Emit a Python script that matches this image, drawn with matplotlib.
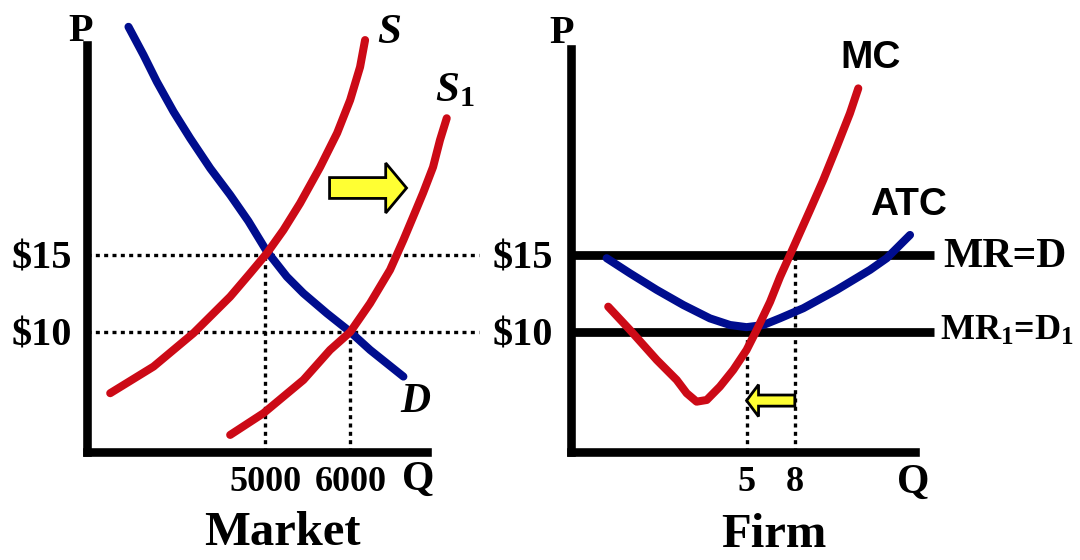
import matplotlib
matplotlib.use('Agg')
import matplotlib.pyplot as plt
from matplotlib.patches import FancyArrowPatch

plt.rcParams['font.family'] = ['Liberation Serif', 'DejaVu Serif']
plt.rcParams['font.weight'] = 'bold'
plt.rcParams['mathtext.fontset'] = 'custom'
plt.rcParams['mathtext.rm'] = 'Liberation Serif:bold'
plt.rcParams['mathtext.it'] = 'Liberation Serif:italic:bold'
plt.rcParams['mathtext.bf'] = 'Liberation Serif:bold'

RED = '#CC0A16'
BLUE = '#000D8E'
YELLOW = '#FFFF33'

# price levels ($15 before the shift, $10 after)
eq_prices = [15, 10]
price_labels = ['$15', '$10']

# market: equilibrium quantities at those prices
market_q = [5000, 6000]
market_q_labels = ['5000', '6000']

# market demand D
d_q = [3389, 3566, 3723, 3919, 4115, 4351, 4586, 4800, 5010, 5253, 5448, 5724, 6000, 6233, 6625]
d_p = [29.82, 27.99, 26.25, 24.31, 22.58, 20.63, 18.9, 17.2, 15.3, 13.59, 12.51, 11.21, 10.0, 8.83, 7.1]

# market supply S
s_q = [3174, 3684, 4154, 4586, 4821, 5018, 5213, 5409, 5645, 5845, 5998, 6115, 6174]
s_p = [6.02, 7.75, 9.92, 12.29, 13.81, 15.11, 16.62, 18.36, 20.71, 22.92, 25.06, 27.21, 28.96]

# shifted supply S1
s1_q = [4586, 4978, 5448, 5762, 6000, 6233, 6468, 6625, 6739, 6857, 6974, 7056, 7135]
s1_p = [3.31, 4.72, 6.88, 8.83, 10.0, 11.86, 14.03, 15.97, 17.47, 19.03, 20.71, 22.47, 23.88]

# firm: output at each price
firm_q = [8, 5]
firm_q_labels = ['8', '5']

# firm marginal cost
mc_q = [-3.61, -2.26, -0.59, 0.65, 1.27, 1.89, 2.52, 3.34, 4.17, 5.0,
        5.63, 6.46, 7.08, 7.7, 8.95, 9.77, 10.61, 11.43, 11.95]
mc_p = [11.64, 10.13, 8.18, 6.88, 6.02, 5.47, 5.58, 6.45, 7.53, 8.83,
        10.13, 11.95, 13.57, 15.0, 17.92, 19.87, 22.03, 24.2, 25.82]

# firm average total cost
atc_q = [-3.71, -2.26, -0.59, 1.06, 2.72, 3.97, 5.0, 6.04, 7.08, 8.53, 10.61, 12.68, 13.72, 15.17]
atc_p = [14.79, 13.81, 12.73, 11.75, 10.88, 10.45, 10.31, 10.45, 10.89, 11.54, 12.73, 14.03, 14.79, 16.30]


def fx(x):
    return x / 1080


def fy(y):
    return 1 - y / 560


fig = plt.figure(figsize=(10.8, 5.6), dpi=100)
ax1 = fig.add_axes([0.0805, 0.19286, 0.3642, 0.72679])
ax2 = fig.add_axes([0.5291, 0.19286, 0.3601, 0.72679])

ax1.set_xlim(2900, 7530)
ax2.set_xlim(-5.9, 18.3)
for ax in (ax1, ax2):
    ax.set_ylim(2.2, 28.64)
    ax.patch.set_visible(False)
    ax.spines['top'].set_visible(False)
    ax.spines['right'].set_visible(False)
    for side in ('left', 'bottom'):
        ax.spines[side].set_linewidth(6.2)
        ax.spines[side].set_capstyle('projecting')
    ax.tick_params(length=0)
    ax.set_yticks(eq_prices, price_labels, fontsize=29)

ax1.spines['bottom'].set_bounds(2900, 6900)
ax2.spines['bottom'].set_bounds(-5.9, 15.46)
ax2.spines['left'].set_bounds(2.2, 28.36)
ax1.tick_params(axis='y', pad=11)
ax2.tick_params(axis='y', pad=13.5)
ax1.set_xticks(market_q, market_q_labels, fontsize=26)
ax2.set_xticks(firm_q, firm_q_labels, fontsize=26)
ax1.tick_params(axis='x', pad=10)
ax2.tick_params(axis='x', pad=10)

dot = (0, (1.2, 1.3))
curve = dict(lw=5.8, solid_capstyle='round', solid_joinstyle='round', clip_on=False, zorder=3)

# market panel
ax1.hlines(eq_prices, 2900, 7510, colors='black', linestyles=dot, lw=2.4, clip_on=False, zorder=1.5)
ax1.vlines(market_q, 2.2, eq_prices, colors='black', linestyles=dot, lw=2.4, zorder=1.5)
ax1.plot(d_q, d_p, color=BLUE, **curve)
ax1.plot(s_q, s_p, color=RED, **curve)
ax1.plot(s1_q, s1_p, color=RED, **curve)
ax1.add_patch(FancyArrowPatch((5756, 19.35), (6662, 19.35),
                              arrowstyle='simple,head_length=15,head_width=36,tail_width=15',
                              mutation_scale=1, shrinkA=0, shrinkB=0, fc=YELLOW, ec='black',
                              lw=2, joinstyle='miter', zorder=4))

# firm panel
ax2.vlines(firm_q, 2.2, eq_prices, colors='black', linestyles=dot, lw=2.4, zorder=1.5)
ax2.hlines(eq_prices, -5.9, 16.68, colors='black', lw=6.3, clip_on=False, zorder=2.6)
ax2.plot(atc_q, atc_p, color=BLUE, **curve)
ax2.plot(mc_q, mc_p, color=RED, **curve)
ax2.add_patch(FancyArrowPatch((firm_q[0], 5.54), (firm_q[1], 5.54),
                              arrowstyle='simple,head_length=8.6,head_width=23,tail_width=8',
                              mutation_scale=1, shrinkA=0, shrinkB=0, fc=YELLOW, ec='black',
                              lw=2, joinstyle='miter', zorder=4))

# labels
fig.text(fx(81), fy(41), 'P', ha='center', va='baseline', fontsize=29)
fig.text(fx(562), fy(42.7), 'P', ha='center', va='baseline', fontsize=29)
fig.text(fx(418), fy(490), 'Q', ha='center', va='baseline', fontsize=30)
fig.text(fx(913.6), fy(493), 'Q', ha='center', va='baseline', fontsize=30)
fig.text(fx(282), fy(545), 'Market', ha='center', va='baseline', fontsize=35)
fig.text(fx(774), fy(547), 'Firm', ha='center', va='baseline', fontsize=35)
fig.text(fx(389), fy(42.7), 'S', ha='center', va='baseline', fontsize=31, style='italic')
fig.text(fx(435), fy(101.7), r'S$_{\mathit{1}}$', ha='left', va='baseline', fontsize=31, style='italic')
fig.text(fx(415), fy(411.7), 'D', ha='center', va='baseline', fontsize=30, style='italic')
fig.text(fx(870.6), fy(68.3), 'MC', ha='center', va='baseline', fontsize=28, family='Liberation Sans')
fig.text(fx(870), fy(215), 'ATC', ha='left', va='baseline', fontsize=28, family='Liberation Sans')
fig.text(fx(943), fy(266.7), 'MR=D', ha='left', va='baseline', fontsize=30)
fig.text(fx(939.5), fy(340), r'MR$_1$=D$_1$', ha='left', va='baseline', fontsize=26)

fig.savefig('out.png', dpi=100)
